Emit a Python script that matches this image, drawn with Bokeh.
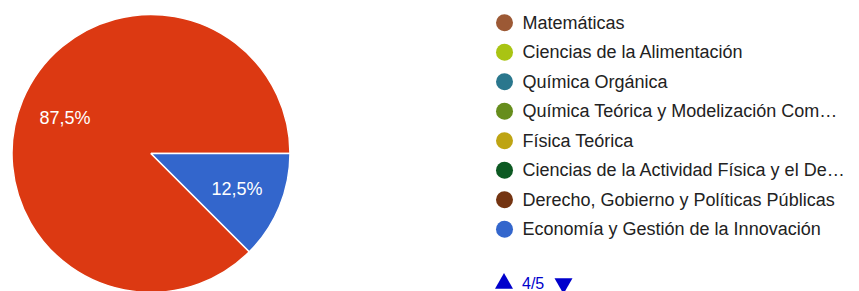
import math
from bokeh.plotting import figure
from bokeh.models import Range1d, ColumnDataSource
from bokeh.core.properties import value
from bokeh.embed import file_html
from bokeh.resources import INLINE

# ---- data ----
slice_values = [87.5, 12.5]
slice_labels = ["87,5%", "12,5%"]
slice_colors = ["#dc3912", "#3366cc"]

legend_labels = [
    "Matemáticas",
    "Ciencias de la Alimentación",
    "Química Orgánica",
    "Química Teórica y Modelización Com…",
    "Física Teórica",
    "Ciencias de la Actividad Física y el De…",
    "Derecho, Gobierno y Políticas Públicas",
    "Economía y Gestión de la Innovación",
]
legend_colors = ["#9c5935", "#a9c413", "#2a778d", "#668d1c",
                 "#bea413", "#0c5922", "#743411", "#3366cc"]
page_label = "4/5"

W, H = 859, 291
FONT = "Liberation Sans"

p = figure(width=W, height=H, output_backend="svg", toolbar_location=None,
           x_range=Range1d(0, W), y_range=Range1d(0, H),
           min_border=0, outline_line_color=None)
p.axis.visible = False
p.grid.visible = False
p.background_fill_color = "white"
p.border_fill_color = "white"

def py(page_y):
    return H - page_y

def px(page_x):
    return page_x

# ---- pie ----
cx, cy, R = px(150.5), py(153), 139
total = sum(slice_values)
starts, ends, lx, ly = [], [], [], []
acc = 0.0
for v in slice_values:
    a0 = 2 * math.pi * acc / total
    acc += v
    a1 = 2 * math.pi * acc / total
    starts.append(a0)
    ends.append(a1)
    mid = (a0 + a1) / 2
    lx.append(cx + 0.67 * R * math.cos(mid))
    ly.append(cy + 0.67 * R * math.sin(mid))

src = ColumnDataSource(dict(start=starts, end=ends, color=slice_colors,
                            lx=lx, ly=ly, label=slice_labels))
p.wedge(x=cx, y=cy, radius=R, start_angle="start", end_angle="end",
        fill_color="color", line_color="white", line_width=1.5, source=src)
p.text(x="lx", y="ly", text="label", source=src, text_color="white",
       text_font=value(FONT), text_font_size="18px",
       text_align="center", text_baseline="middle")

# ---- legend ----
row_y = [py(22.3 + 29.5 * i) for i in range(len(legend_labels))]
lsrc = ColumnDataSource(dict(y=row_y, label=legend_labels, color=legend_colors))
p.scatter(x=px(504), y="y", size=17, marker="circle", fill_color="color",
          line_color=None, source=lsrc)
p.text(x=px(522), y="y", text="label", source=lsrc, text_color="#222222",
       text_font=value(FONT), text_font_size="18px",
       text_align="left", text_baseline="middle")

# ---- pagination ----
nav_y = py(283)
p.scatter(x=[px(503.5)], y=[nav_y], marker="triangle", size=18,
          fill_color="#0000cc", line_color=None)
p.scatter(x=[px(563)], y=[nav_y], marker="inverted_triangle", size=18,
          fill_color="#0000cc", line_color=None)
p.text(x=[px(521.5)], y=[nav_y], text=[page_label], text_color="#0000cc",
       text_font=value(FONT), text_font_size="16px",
       text_align="left", text_baseline="middle")

open("out.html", "w").write(file_html(p, INLINE))
